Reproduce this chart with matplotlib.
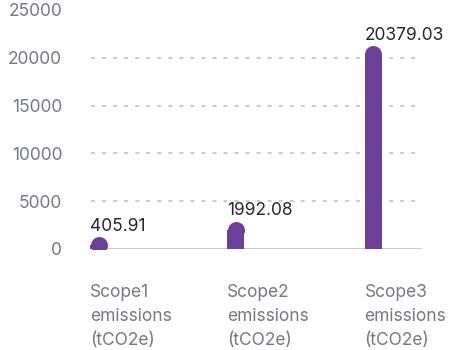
import numpy as np
import matplotlib.pyplot as plt

plt.rcParams['font.family'] = ['Inter', 'DejaVu Sans']

categories = ['Scope1\nemissions\n(tCO2e)', 'Scope2\nemissions\n(tCO2e)', 'Scope3\nemissions\n(tCO2e)']
values = [405.91, 1992.08, 20379.03]
yticks = [0, 5000, 10000, 15000, 20000, 25000]

purple = '#6b4099'
grid_col = '#c9ccd4'
label_col = '#767889'

fig = plt.figure(figsize=(4.51, 3.5), dpi=100)
ax = fig.add_axes([0.1996, 0.2886, 0.736, 0.6829])

x = np.arange(len(values))
w = 0.124

# dotted guide lines (the zero line is drawn solid below)
ax.hlines(yticks[1:-1], -0.058, 2.356, colors=grid_col, linestyles=(0, (1.9, 3.4)), linewidth=1.5, zorder=1)
ax.axhline(0, color=grid_col, linewidth=2.2, zorder=1)

ax.bar(x, values, width=w, color=purple, zorder=3)
# round caps on the bar tops, clipped at the zero line
ax.plot(x, values, 'o', color=purple, markersize=12.2, markeredgewidth=0, zorder=3)

for xi, v in zip(x, values):
    ax.annotate(f'{v:.2f}', (xi - w / 2, v), xytext=(0, 10.5), textcoords='offset points',
                ha='left', va='baseline', fontsize=12.5, color='#262636')

ax.set_xlim(-0.058, 2.356)
ax.set_ylim(0, 25000)
ax.set_yticks(yticks)
ax.set_yticklabels([str(t) for t in yticks], fontsize=12.5, color=label_col)
ax.set_xticks(x - w / 2)
ax.set_xticklabels(categories, fontsize=12.5, color=label_col, ha='left', linespacing=1.55)
ax.tick_params(axis='y', length=0, pad=20)
ax.tick_params(axis='x', length=0, pad=25)
for s in ax.spines.values():
    s.set_visible(False)

fig.savefig('out.png', dpi=100)
